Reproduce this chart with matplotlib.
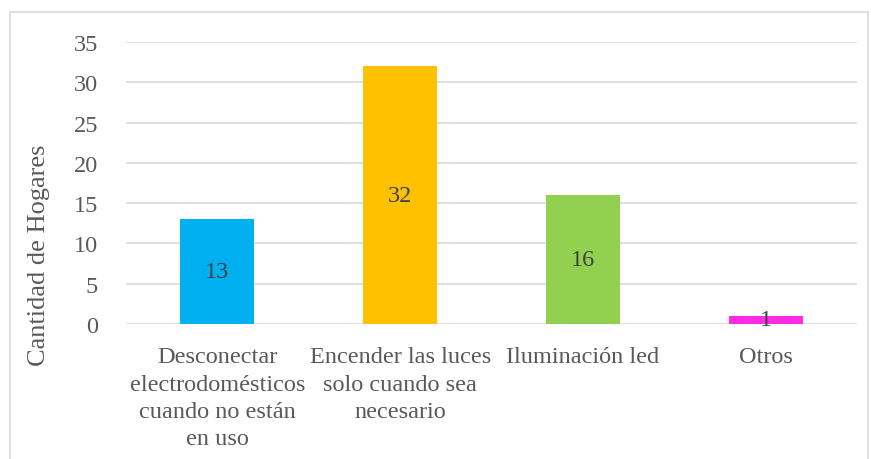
import matplotlib.pyplot as plt
from matplotlib.patches import Rectangle

plt.rcParams['font.family'] = ['Liberation Serif', 'DejaVu Serif']

categorias = ['Desconectar\nelectrodomésticos\ncuando no están\nen uso',
              'Encender las luces\nsolo cuando sea\nnecesario',
              'Iluminación led',
              'Otros']
hogares = [13, 32, 16, 1]
colores = ['#00B0F0', '#FFC000', '#92D050', '#FF2BE5']

gris = '#595959'

fig = plt.figure(figsize=(8.71, 4.6), dpi=100)
fig.patches.append(Rectangle((10 / 871, -0.05), 858 / 871, 1.05 - 13 / 460,
                             transform=fig.transFigure, fill=False,
                             edgecolor='#D9D9D9', linewidth=1.2))

ax = fig.add_axes([126 / 871, 1 - 325 / 460, 731 / 871, 282 / 460])
x = range(len(hogares))
barras = ax.bar(x, hogares, width=0.405, color=colores, zorder=3)

for b, v in zip(barras, hogares):
    ax.text(b.get_x() + b.get_width() / 2, v / 2, str(v), ha='center', va='center',
            fontsize=17.5, color='#404040', zorder=4)

ax.set_xlim(-0.5, len(hogares) - 0.5)
ax.set_ylim(0, 35)
ax.set_yticks(range(0, 36, 5))
ax.yaxis.grid(True, color='#D9D9D9', linewidth=1.2, zorder=0)
ax.set_axisbelow(True)
for s in ax.spines.values():
    s.set_visible(False)
ax.tick_params(axis='both', length=0, colors=gris, labelsize=17.5)
ax.tick_params(axis='y', pad=20)
ax.tick_params(axis='x', pad=16)
ax.set_xticks(list(x))
ax.set_xticklabels(categorias, linespacing=1.4, va='top')
ax.set_ylabel('Cantidad de Hogares', fontsize=19, color=gris)
ax.yaxis.set_label_coords(-0.104, 0.248)

fig.savefig('out.png', dpi=100)
